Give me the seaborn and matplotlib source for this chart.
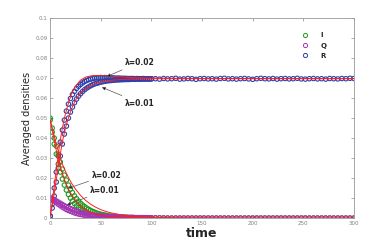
import numpy as np
import matplotlib
matplotlib.use("Agg")
import matplotlib.pyplot as plt
from matplotlib.lines import Line2D
import seaborn as sns

# time grids for the markers
t_early = np.arange(0, 101, 2)
t_late = np.arange(104, 301, 4)

# R markers, two runs (lambda=0.02 upper, lambda=0.01 lower), t = 0..100
R_run_a = [0.001, 0.007, 0.015, 0.023, 0.031, 0.038, 0.044, 0.049, 0.0535, 0.057,
           0.0598, 0.0618, 0.0634, 0.0648, 0.0659, 0.0668, 0.0676, 0.0683, 0.0688, 0.0692,
           0.0695, 0.0698, 0.0700, 0.0701, 0.0702, 0.0703, 0.0702, 0.0703, 0.0702, 0.0702,
           0.0701, 0.0701, 0.0700, 0.0700, 0.0700, 0.0699, 0.0699, 0.0699, 0.0698, 0.0698,
           0.0698, 0.0698, 0.0697, 0.0698, 0.0697, 0.0697, 0.0698, 0.0697, 0.0696, 0.0697,
           0.0697]
R_run_b = [0.001, 0.005, 0.011, 0.018, 0.025, 0.031, 0.037, 0.042, 0.046, 0.050,
           0.053, 0.0555, 0.0577, 0.0595, 0.061, 0.0622, 0.0633, 0.0642, 0.0650, 0.0656,
           0.0662, 0.0667, 0.0671, 0.0674, 0.0677, 0.0680, 0.0682, 0.0684, 0.0686, 0.0687,
           0.0688, 0.0689, 0.0690, 0.0691, 0.0691, 0.0692, 0.0692, 0.0693, 0.0693, 0.0693,
           0.0694, 0.0694, 0.0694, 0.0695, 0.0694, 0.0695, 0.0695, 0.0695, 0.0696, 0.0695,
           0.0696]
R_late = [0.0697, 0.0695, 0.0698, 0.0696, 0.0697, 0.0699, 0.0695, 0.0696, 0.0698, 0.0697,
          0.0694, 0.0697, 0.0698, 0.0696, 0.0697, 0.0695, 0.0698, 0.0699, 0.0696, 0.0697,
          0.0695, 0.0697, 0.0698, 0.0696, 0.0694, 0.0697, 0.0699, 0.0697, 0.0696, 0.0698,
          0.0695, 0.0697, 0.0698, 0.0696, 0.0697, 0.0699, 0.0696, 0.0695, 0.0697, 0.0698,
          0.0696, 0.0697, 0.0695, 0.0698, 0.0697, 0.0696, 0.0698, 0.0697, 0.0699, 0.0698]

# I markers
I_run_a = [0.050, 0.045, 0.040, 0.036, 0.032, 0.028, 0.0245, 0.0215, 0.019, 0.0165,
           0.0145, 0.0127, 0.0111, 0.0097, 0.0085, 0.0074, 0.0065, 0.0057, 0.0050, 0.0044,
           0.0038, 0.0033, 0.0029, 0.0025, 0.0022, 0.0019, 0.0017, 0.0015, 0.0013, 0.0011,
           0.0010, 0.0009, 0.0008, 0.0007, 0.0006, 0.0005, 0.0005, 0.0004, 0.0004, 0.0003,
           0.0003, 0.0003, 0.0002, 0.0002, 0.0002, 0.0002, 0.0001, 0.0001, 0.0001, 0.0001,
           0.0001]
I_run_b = [0.049, 0.043, 0.037, 0.032, 0.027, 0.023, 0.0195, 0.0165, 0.014, 0.0118,
           0.0100, 0.0085, 0.0072, 0.0061, 0.0052, 0.0044, 0.0037, 0.0031, 0.0026, 0.0022,
           0.0019, 0.0016, 0.0013, 0.0011, 0.0009, 0.0008, 0.0007, 0.0006, 0.0005, 0.0004,
           0.0004, 0.0003, 0.0003, 0.0002, 0.0002, 0.0002, 0.0001, 0.0001, 0.0001, 0.0001,
           0.0001, 0.0001, 0.0, 0.0, 0.0, 0.0, 0.0, 0.0, 0.0, 0.0,
           0.0]
I_late = [0.0001, 0.0001, 0.0, 0.0, 0.0, 0.0, 0.0, 0.0, 0.0, 0.0,
          0.0, 0.0, 0.0, 0.0, 0.0, 0.0, 0.0, 0.0, 0.0, 0.0,
          0.0, 0.0, 0.0, 0.0, 0.0, 0.0, 0.0, 0.0, 0.0, 0.0,
          0.0, 0.0, 0.0, 0.0, 0.0, 0.0, 0.0, 0.0, 0.0, 0.0,
          0.0, 0.0, 0.0, 0.0, 0.0, 0.0, 0.0, 0.0, 0.0, 0.0]

# Q markers
Q_run_a = [0.0100, 0.0097, 0.0092, 0.0086, 0.0080, 0.0074, 0.0068, 0.0062, 0.0057, 0.0052,
           0.0047, 0.0043, 0.0039, 0.0035, 0.0032, 0.0029, 0.0026, 0.0024, 0.0021, 0.0019,
           0.0017, 0.0016, 0.0014, 0.0013, 0.0012, 0.0011, 0.0010, 0.0009, 0.0008, 0.0007,
           0.0007, 0.0006, 0.0006, 0.0005, 0.0005, 0.0004, 0.0004, 0.0004, 0.0003, 0.0003,
           0.0003, 0.0003, 0.0002, 0.0002, 0.0002, 0.0002, 0.0002, 0.0002, 0.0001, 0.0001,
           0.0001]
Q_run_b = [0.0098, 0.0092, 0.0085, 0.0077, 0.0069, 0.0062, 0.0055, 0.0049, 0.0043, 0.0038,
           0.0034, 0.0030, 0.0026, 0.0023, 0.0020, 0.0018, 0.0016, 0.0014, 0.0012, 0.0011,
           0.0010, 0.0009, 0.0008, 0.0007, 0.0006, 0.0005, 0.0005, 0.0004, 0.0004, 0.0003,
           0.0003, 0.0003, 0.0002, 0.0002, 0.0002, 0.0002, 0.0001, 0.0001, 0.0001, 0.0001,
           0.0001, 0.0001, 0.0, 0.0, 0.0, 0.0, 0.0, 0.0, 0.0, 0.0,
           0.0]
Q_late = [0.0001, 0.0001, 0.0001, 0.0, 0.0, 0.0, 0.0, 0.0, 0.0, 0.0,
          0.0, 0.0, 0.0, 0.0, 0.0, 0.0, 0.0, 0.0, 0.0, 0.0,
          0.0, 0.0, 0.0, 0.0, 0.0, 0.0, 0.0, 0.0, 0.0, 0.0,
          0.0, 0.0, 0.0, 0.0, 0.0, 0.0, 0.0, 0.0, 0.0, 0.0,
          0.0, 0.0, 0.0, 0.0, 0.0, 0.0, 0.0, 0.0, 0.0, 0.0]

# red reference curves
t_line = [0, 2, 4, 6, 8, 10, 12, 15, 18, 21, 25, 30, 35, 40, 45, 50, 55, 60,
          70, 80, 90, 100, 120, 150, 200, 250, 300]
R_line_002 = [0.001, 0.008, 0.016, 0.024, 0.032, 0.039, 0.045, 0.052, 0.0575, 0.062,
              0.066, 0.0690, 0.0705, 0.0711, 0.0713, 0.0713, 0.0712, 0.0710, 0.0706, 0.0703,
              0.0701, 0.0700, 0.0699, 0.0698, 0.0698, 0.0698, 0.0698]
R_line_001 = [0.001, 0.006, 0.012, 0.019, 0.026, 0.032, 0.038, 0.045, 0.050, 0.0545,
              0.059, 0.0625, 0.0648, 0.0663, 0.0674, 0.0681, 0.0686, 0.0689, 0.0693, 0.0695,
              0.0696, 0.0697, 0.0697, 0.0697, 0.0697, 0.0697, 0.0697]
I_line_002 = [0.049, 0.045, 0.041, 0.037, 0.0335, 0.030, 0.027, 0.0235, 0.0203, 0.0175,
              0.0145, 0.0113, 0.0088, 0.0069, 0.0054, 0.0042, 0.0033, 0.0026, 0.0016, 0.0010,
              0.0006, 0.0004, 0.0002, 0.0001, 0.0, 0.0, 0.0]
I_line_001 = [0.049, 0.044, 0.039, 0.034, 0.030, 0.026, 0.0225, 0.018, 0.0145, 0.0117,
              0.0088, 0.0060, 0.0041, 0.0028, 0.0019, 0.0013, 0.0009, 0.0006, 0.0003, 0.0001,
              0.0001, 0.0, 0.0, 0.0, 0.0, 0.0, 0.0]

c_I = "#1e9a1e"
c_Q = "#a435b4"
c_R = "#3040a8"
c_red = "#ff1e1e"

sns.set_style("ticks")
plt.rcParams['font.family'] = ['DejaVu Sans']

fig = plt.figure(figsize=(3.92, 2.45), dpi=100)
ax = fig.add_axes([0.128, 0.110, 0.775, 0.816])

def markers(t, y, color):
    sns.scatterplot(x=t, y=y, ax=ax, marker='o', s=10, color=color,
                    facecolors='none', edgecolor=color, linewidth=0.8,
                    legend=False, zorder=2)

# markers: R first, then I, then Q on top
markers(t_early, R_run_b, c_R)
markers(t_early, R_run_a, c_R)
markers(t_late, R_late, c_R)
markers(t_early, I_run_a, c_I)
markers(t_early, I_run_b, c_I)
markers(t_late, I_late, c_I)
markers(t_early, Q_run_a, c_Q)
markers(t_early, Q_run_b, c_Q)
markers(t_late, Q_late, c_Q)

for yl in [R_line_002, R_line_001, I_line_002, I_line_001]:
    sns.lineplot(x=t_line, y=yl, ax=ax, color=c_red, linewidth=0.7, zorder=3)

ax.set_xlim(0, 300)
ax.set_ylim(0, 0.1)
ax.set_xticks([0, 50, 100, 150, 200, 250, 300])
yt = [0, 0.01, 0.02, 0.03, 0.04, 0.05, 0.06, 0.07, 0.08, 0.09, 0.1]
ax.set_yticks(yt)
ax.set_yticklabels(["0", "0.01", "0.02", "0.03", "0.04", "0.05", "0.06",
                    "0.07", "0.08", "0.09", "0.1"])
ax.tick_params(direction='in', length=2.5, width=0.5, colors='#888888',
               labelsize=4, labelcolor='#808080', top=True, right=True, pad=2)
for sp in ax.spines.values():
    sp.set_color('#999999')
    sp.set_linewidth(0.6)

ax.set_xlabel("time", fontsize=9, fontweight='bold', labelpad=1)
ax.set_ylabel("Averaged densities", fontsize=7, labelpad=2)

# legend
handles = [Line2D([], [], marker='o', linestyle='none', markersize=3,
                  markerfacecolor='none', markeredgecolor=c, markeredgewidth=0.7)
           for c in [c_I, c_Q, c_R]]
ax.legend(handles, ["I", "Q", "R"], loc='upper right', frameon=False,
          bbox_to_anchor=(0.93, 0.96), handlelength=1.2, handletextpad=1.6,
          labelspacing=0.6, prop={'size': 5, 'weight': 'bold'})

arrow = dict(arrowstyle='-|>', ec='#555555', fc='black', lw=0.5, mutation_scale=5,
             shrinkA=0, shrinkB=0)
ax.annotate("λ=0.02", xy=(56, 0.0708), xytext=(74, 0.0780), fontsize=5.5,
            fontweight='bold', va='center', arrowprops=arrow)
ax.annotate("λ=0.01", xy=(51, 0.0654), xytext=(74, 0.0575), fontsize=5.5,
            fontweight='bold', va='center', arrowprops=arrow)
ax.annotate("λ=0.02", xy=(18, 0.0149), xytext=(41, 0.0215), fontsize=5.5,
            fontweight='bold', va='center', arrowprops=arrow)
ax.annotate("λ=0.01", xy=(16.5, 0.0065), xytext=(39.5, 0.0140), fontsize=5.5,
            fontweight='bold', va='center', arrowprops=arrow)

fig.savefig("out.png", dpi=100)
